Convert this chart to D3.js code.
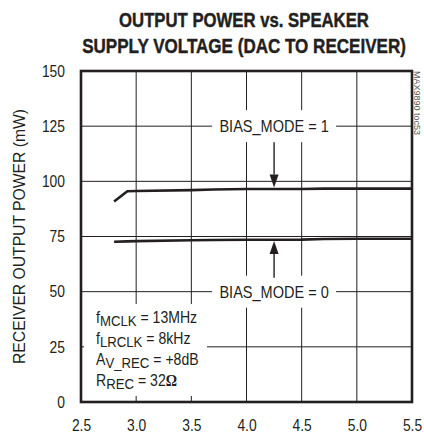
<!DOCTYPE html>
<html>
<head>
<meta charset="utf-8">
<script src="https://cdn.jsdelivr.net/npm/d3@7"></script>
<style>
  html, body { margin: 0; padding: 0; background: #fff; }
  svg { display: block; }
  text { font-family: "Liberation Sans", Arial, sans-serif; fill: #231f20; }
</style>
</head>
<body>
<svg id="chart" width="424" height="438"></svg>
<script>
// Supply voltage (V) sample points and receiver output power (mW) per bias mode
const supplyVoltage = [2.8, 2.92, 3.0, 3.5, 3.7, 4.0, 4.5, 4.7, 5.0, 5.5];
const powerBias1 = [90.9, 95.5, 95.6, 96.0, 96.3, 96.5, 96.5, 96.7, 96.7, 96.7];
const powerBias0 = [72.6, 72.8, 72.9, 73.3, 73.4, 73.5, 73.6, 73.9, 74.0, 74.0];

const xTicks = [2.5, 3.0, 3.5, 4.0, 4.5, 5.0, 5.5];
const yTicks = [0, 25, 50, 75, 100, 125, 150];

const titleLines = ["OUTPUT POWER vs. SPEAKER", "SUPPLY VOLTAGE (DAC TO RECEIVER)"];
const yLabel = "RECEIVER OUTPUT POWER (mW)";
const seriesLabels = ["BIAS_MODE = 1", "BIAS_MODE = 0"];
const arrowAt = { x: 4.25, y1: 96.5, y0: 73.6 };

const svg = d3.select("#chart");
const margin = { left: 81, right: 12, top: 71, bottom: 36 };
const W = 424, H = 438;

const x = d3.scaleLinear().domain([2.5, 5.5]).range([margin.left, W - margin.right]);
const y = d3.scaleLinear().domain([0, 150]).range([H - margin.bottom, margin.top]);

// Squeeze text horizontally to get a narrow face
function condense(sel, k) {
  sel.each(function () {
    const L = this.getComputedTextLength();
    d3.select(this).attr("textLength", L * k).attr("lengthAdjust", "spacingAndGlyphs");
  });
}

// Title: bold face narrowed with a horizontal scale to a set width
const titleWidths = [250, 324];
svg.append("g").selectAll("text").data(titleLines).join("text")
  .attr("text-anchor", "middle")
  .style("font-weight", "bold").style("font-size", "21px")
  .style("stroke", "#231f20").style("stroke-width", 0.45)
  .text(d => d)
  .each(function (d, i) {
    const k = titleWidths[i] / this.getComputedTextLength();
    d3.select(this).attr("transform", `translate(244,${27 + i * 26}) scale(${k},1)`);
  });

// Grid
const grid = svg.append("g").attr("stroke", "#231f20").attr("stroke-width", 1);
grid.selectAll(".vg").data(xTicks.slice(1, -1)).join("line")
  .attr("x1", d => x(d)).attr("x2", d => x(d))
  .attr("y1", y(0)).attr("y2", y(150));
grid.selectAll(".hg").data(yTicks.slice(1, -1)).join("line")
  .attr("x1", x(2.5)).attr("x2", x(5.5))
  .attr("y1", d => y(d)).attr("y2", d => y(d));

// Axes tick labels via d3 axes (frame drawn separately)
const tickK = 0.84;
const xAxis = svg.append("g").attr("transform", `translate(0,${y(0)})`)
  .call(d3.axisBottom(x).tickValues(xTicks).tickFormat(d3.format(".1f")).tickSize(0).tickPadding(17));
const yAxis = svg.append("g").attr("transform", `translate(${x(2.5)},0)`)
  .call(d3.axisLeft(y).tickValues(yTicks).tickSize(0).tickPadding(16));
[xAxis, yAxis].forEach(a => {
  a.select(".domain").remove();
  a.selectAll("text").style("font-size", "16.5px")
    .style("font-family", '"Liberation Sans", Arial, sans-serif')
    .attr("fill", "#231f20")
    .attr("x", function () { return (+d3.select(this).attr("x") || 0) / tickK; })
    .attr("transform", `scale(${tickK},1)`);
});

// Y axis title
const yt = svg.append("text")
  .attr("transform", `translate(25,${(y(0) + y(150)) / 2}) rotate(-90)`)
  .attr("text-anchor", "middle")
  .style("font-size", "16px")
  .text(yLabel);
condense(yt, 0.98);

// Watermark
svg.append("text")
  .attr("transform", `translate(414,${margin.top}) rotate(90)`)
  .style("font-size", "9px").style("fill", "#555")
  .text("MAX9890 toc53");

// Label boxes (white backgrounds interrupt the grid)
function labelBox(cx, cy, txt) {
  const g = svg.append("g");
  g.append("rect").attr("x", cx - 62).attr("y", cy - 16).attr("width", 124).attr("height", 32).attr("fill", "#fff");
  const t = g.append("text").attr("x", cx).attr("y", cy + 6).attr("text-anchor", "middle")
    .style("font-size", "16.5px").text(txt);
  condense(t, 0.88);
}
labelBox(x(arrowAt.x), y(125), seriesLabels[0]);
labelBox(x(arrowAt.x), y(50), seriesLabels[1]);

// Conditions box
const condX = x(2.5) + 15;
svg.append("rect").attr("x", x(2.5) + 3).attr("y", 304).attr("width", 123).attr("height", 92).attr("fill", "#fff");
const conds = [
  [["f", 0], ["MCLK", 1], [" = 13MHz", 0]],
  [["f", 0], ["LRCLK", 1], [" = 8kHz", 0]],
  [["A", 0], ["V_REC", 1], [" = +8dB", 0]],
  [["R", 0], ["REC", 1], [" = 32", 0], ["\u03A9", 2]]
];
conds.forEach((parts, i) => {
  const t = svg.append("text")
    .attr("transform", `translate(${condX},${323 + i * 21}) scale(0.88,1)`)
    .style("font-size", "16px");
  let prevSub = false;
  parts.forEach(([s, kind]) => {
    const ts = t.append("tspan").text(s);
    if (kind === 1) { ts.style("font-size", "15px").attr("dy", 3); prevSub = true; }
    else {
      ts.attr("dy", prevSub ? -3 : 0); prevSub = false;
      if (kind === 2) ts.style("font-family", '"Liberation Serif", "Times New Roman", serif').style("font-weight", "bold");
    }
  });
});

// Series lines
const line = d3.line().x((d, i) => x(supplyVoltage[i])).y(d => y(d));
[powerBias1, powerBias0].forEach(vals => {
  svg.append("path").datum(vals).attr("d", line)
    .attr("fill", "none").attr("stroke", "#231f20").attr("stroke-width", 2.6)
    .attr("stroke-linejoin", "round");
});

// Arrows from labels to curves
function arrow(x0, yFrom, yTo) {
  const dir = yTo > yFrom ? 1 : -1;
  const head = 13;
  svg.append("line").attr("x1", x0).attr("x2", x0).attr("y1", yFrom).attr("y2", yTo - dir * head)
    .attr("stroke", "#231f20").attr("stroke-width", 1.4);
  svg.append("path")
    .attr("d", `M${x0},${yTo} L${x0 - 4.5},${yTo - dir * head} L${x0 + 4.5},${yTo - dir * head} Z`)
    .attr("fill", "#231f20");
}
arrow(x(arrowAt.x), y(125) + 16, y(arrowAt.y1) - 1.5);
arrow(x(arrowAt.x), y(50) - 14, y(arrowAt.y0) + 1.5);

// Frame
svg.append("rect").attr("x", x(2.5)).attr("y", y(150))
  .attr("width", x(5.5) - x(2.5)).attr("height", y(0) - y(150))
  .attr("fill", "none").attr("stroke", "#231f20").attr("stroke-width", 2.6);
</script>
</body>
</html>
